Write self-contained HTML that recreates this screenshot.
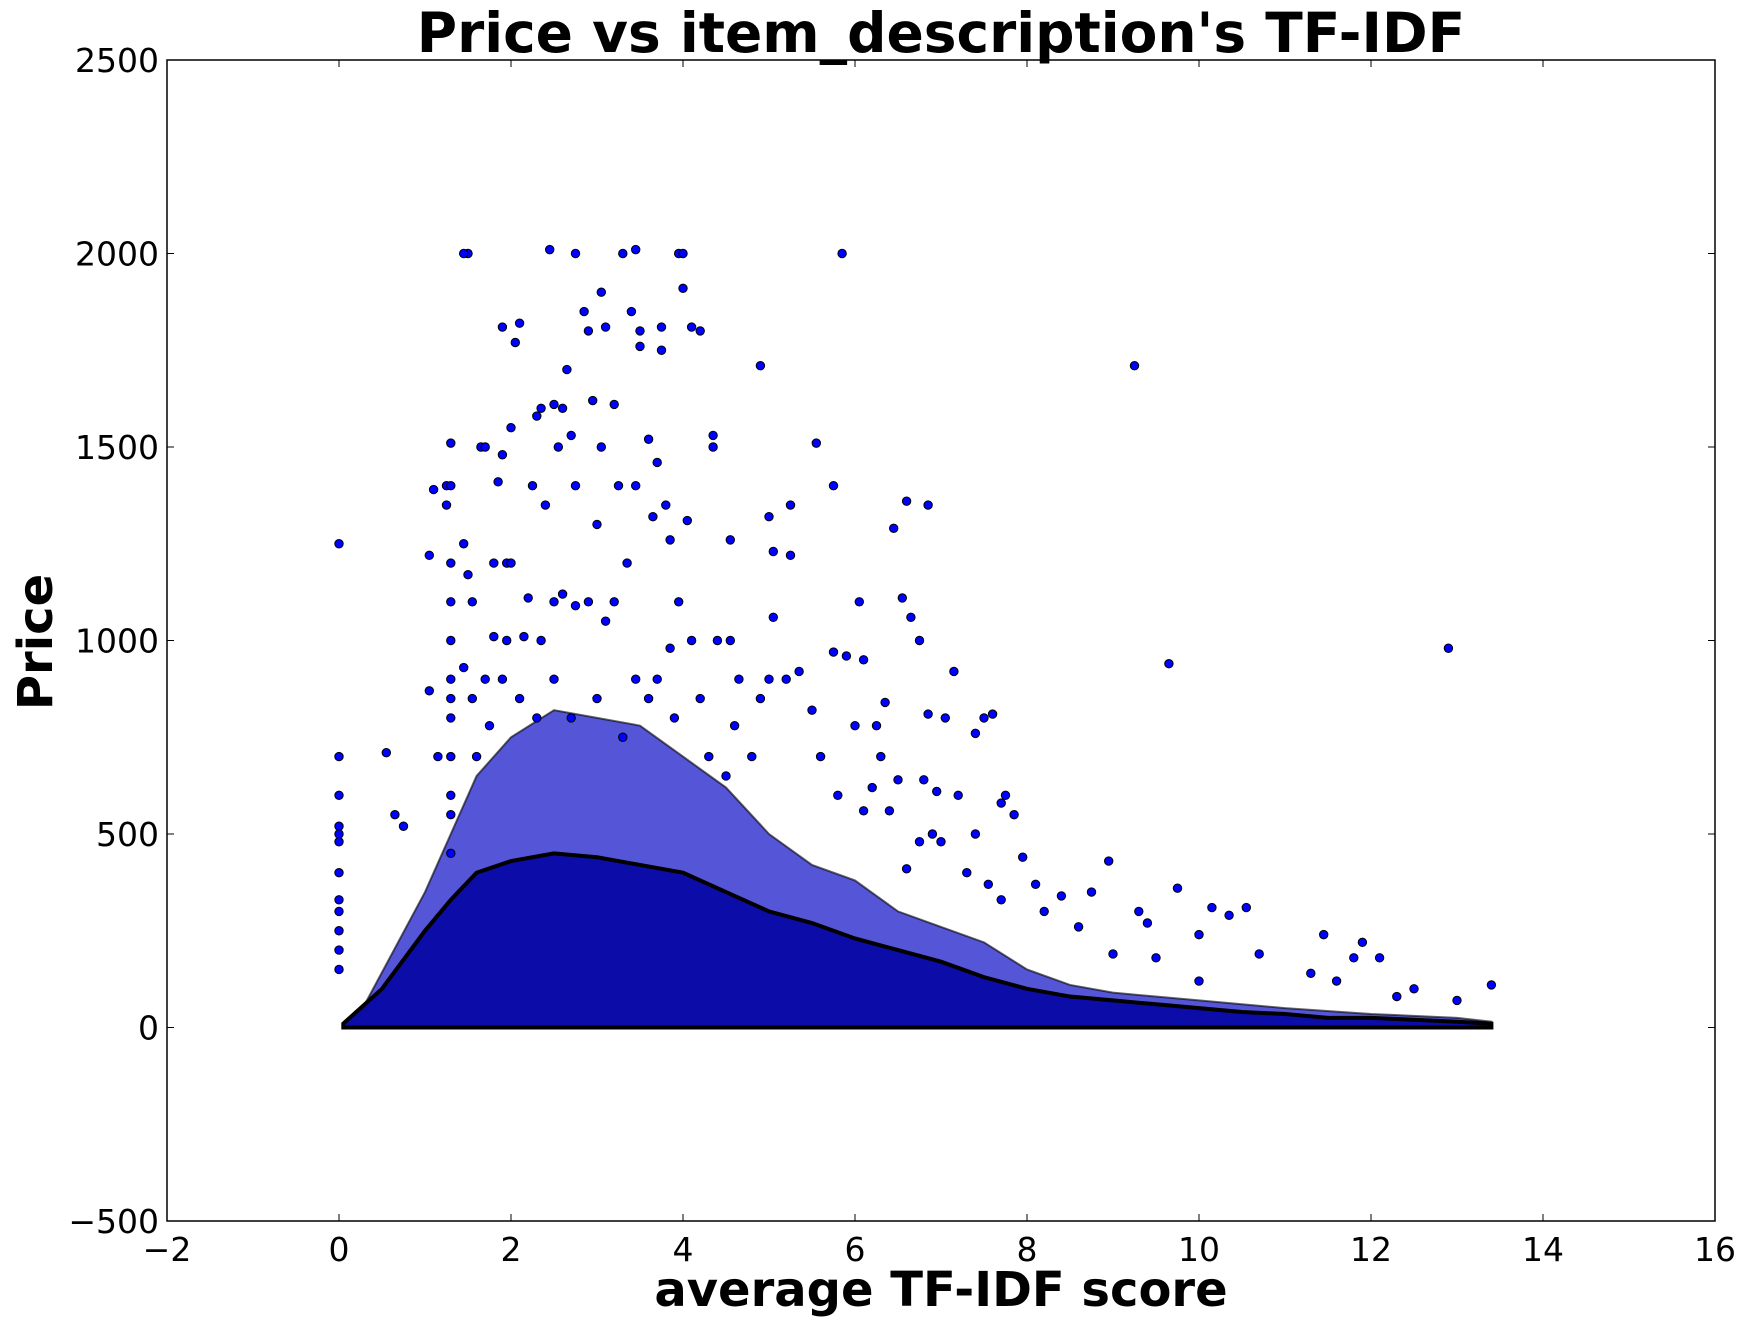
<!DOCTYPE html>
<html><head><meta charset="utf-8"><style>
html,body{margin:0;padding:0;background:#fff;}
svg{display:block;font-family:"Liberation Sans","DejaVu Sans",sans-serif;}
</style></head><body>
<svg id="chart" width="1748" height="1325" viewBox="0 0 1748 1325" xmlns="http://www.w3.org/2000/svg">
<rect x="0" y="0" width="1748" height="1325" fill="#fff"/>
<text x="941" y="52" text-anchor="middle" font-size="55" font-weight="bold" font-family="DejaVu Sans, sans-serif">Price vs item_description's TF-IDF</text>
<text x="941" y="1306" text-anchor="middle" font-size="48" font-weight="bold" font-family="DejaVu Sans, sans-serif">average TF-IDF score</text>
<text transform="translate(52,642) rotate(-90)" text-anchor="middle" font-size="48" font-weight="bold" font-family="DejaVu Sans, sans-serif">Price</text>
<g id="marks"></g>
<g id="axes"></g>
</svg>
<script>
const xTicks=[-2,0,2,4,6,8,10,12,14,16];
const yTicks=[-500,0,500,1000,1500,2000,2500];
const denseX=[0.05,0.1,0.5,1.0,1.3,1.6,2.0,2.5,3.0,3.5,4.0,4.5,5.0,5.5,6.0,6.5,7.0,7.5,8.0,8.5,9.0,9.5,10.0,10.5,11.0,11.5,12.0,12.5,13.0,13.4];
const denseY=[10,20,100,250,330,400,430,450,440,420,400,350,300,270,230,200,170,130,100,80,70,60,50,40,35,25,25,20,15,10];
const bandX=[0.3,1.0,1.3,1.6,2.0,2.5,3.0,3.5,4.0,4.5,5.0,5.5,6.0,6.5,7.0,7.5,8.0,8.5,9.0,10.0,11.0,12.0,13.0,13.4];
const bandY=[60,350,500,650,750,820,800,780,700,620,500,420,380,300,260,220,150,110,90,70,50,35,25,15];
const ptX=[0,0,0,0,0,0,0,0.55,0.65,0.75,1.05,1.1,1.05,1.15,1.25,1.3,1.3,1.25,1.3,1.3,1.3,1.3,1.3,1.45,1.5,1.45,1.5,1.55,1.65,1.7,1.8,1.85,1.9,1.9,1.95,2.0,2.05,2.1,2.15,2.25,2.3,2.35,2.4,2.45,2.5,2.55,2.6,2.65,2.7,2.75,2.75,2.85,2.9,2.95,3.0,3.05,3.1,3.05,3.2,3.25,3.3,3.35,3.4,3.45,3.45,3.5,3.5,3.6,3.65,3.7,3.75,3.75,3.8,3.85,3.95,4.0,4.0,4.05,4.1,4.2,4.35,4.35,4.55,4.9,5.0,5.05,5.05,5.25,5.25,5.55,5.75,5.85,6.05,6.1,6.25,6.45,6.55,6.6,6.65,6.75,6.85,6.85,7.05,7.15,7.4,7.5,7.6,7.7,7.75,7.85,9.25,9.65,12.9,8.95,9.75,10.55,11.45,11.9,12.1,11.8,10.15,10,10.35,9.3,9.4,8.75,8.1,8.4,7.95,7.55,7.4,7.2,6.95,6.8,6.75,6.9,6.5,6.3,6.35,6.2,6.0,5.9,5.75,5.5,5.35,5.2,5.0,4.9,4.8,4.6,4.4,4.55,4.65,4.3,4.1,3.95,3.85,3.7,3.45,3.2,3.1,2.9,2.75,2.6,2.5,2.35,2.2,2.0,1.95,1.8,1.7,1.55,1.45,1.6,1.75,1.9,2.1,2.3,2.5,2.7,3.0,3.3,3.6,3.9,4.2,4.5,5.6,5.8,6.1,6.4,6.6,7.0,7.3,7.7,8.2,8.6,9.0,9.5,10.0,10.7,11.3,11.6,12.5,13.4,13.0,12.3,0,0,0,0,0,1.3,1.3,1.3,1.3,1.3];
const ptY=[1250,700,600,520,500,480,400,710,550,520,870,1390,1220,700,1400,1400,1510,1350,1200,1100,1000,900,850,1250,2000,2000,1170,1100,1500,1500,1200,1410,1810,1480,1200,1550,1770,1820,1010,1400,1580,1600,1350,2010,1610,1500,1600,1700,1530,1400,2000,1850,1800,1620,1300,1900,1810,1500,1610,1400,2000,1200,1850,2010,1400,1760,1800,1520,1320,1460,1750,1810,1350,1260,2000,2000,1910,1310,1810,1800,1530,1500,1260,1710,1320,1230,1060,1350,1220,1510,1400,2000,1100,950,780,1290,1110,1360,1060,1000,1350,810,800,920,760,800,810,580,600,550,1710,940,980,430,360,310,240,220,180,180,310,240,290,300,270,350,370,340,440,370,500,600,610,640,480,500,640,700,840,620,780,960,970,820,920,900,900,850,700,780,1000,1000,900,700,1000,1100,980,900,900,1100,1050,1100,1090,1120,1100,1000,1110,1200,1000,1010,900,850,930,700,780,900,850,800,900,800,850,750,850,800,850,650,700,600,560,560,410,480,400,330,300,260,190,180,120,190,140,120,100,110,70,80,330,300,250,200,150,800,700,600,550,450];
const NS="http://www.w3.org/2000/svg";
const L=167,R=1715,T=60,B=1221;
function sx(v){return L+(v-(-2))/18*(R-L);}
function sy(v){return B-(v-(-500))/3000*(B-T);}
const marks=document.getElementById('marks');
const axes=document.getElementById('axes');
function mk(tag,attrs,parent){const e=document.createElementNS(NS,tag);for(const k in attrs)e.setAttribute(k,attrs[k]);parent.appendChild(e);return e;}
function area(xs,ys){let d='M'+sx(xs[0])+','+sy(0);for(let i=0;i<xs.length;i++)d+=' L'+sx(xs[i])+','+sy(ys[i]);d+=' L'+sx(xs[xs.length-1])+','+sy(0)+' Z';return d;}
const band=mk('path',{d:area(bandX,bandY),fill:'#1414c8','fill-opacity':'0.72',stroke:'#000','stroke-width':'2','stroke-opacity':'0.6'},marks);


const dense=mk('path',{d:area(denseX,denseY),fill:'#0c0ca8',stroke:'#000','stroke-width':'4'},marks);


for(let i=0;i<ptX.length;i++){
  const c=mk('circle',{cx:sx(ptX[i]),cy:sy(ptY[i]),r:4.2,fill:'#0000ff',stroke:'#000','stroke-width':'1'},marks);
  
  
}
const frame=mk('rect',{x:L,y:T,width:R-L,height:B-T,fill:'none',stroke:'#000','stroke-width':'1.5'},axes);


for(const t of xTicks){
  const x=sx(t);
  mk('line',{x1:x,x2:x,y1:B,y2:B-7,stroke:'#000','stroke-width':'1'},axes);
  mk('line',{x1:x,x2:x,y1:T,y2:T+7,stroke:'#000','stroke-width':'1'},axes);
  const tx=mk('text',{x:x,y:B+40,'text-anchor':'middle','font-size':'33','font-family':'DejaVu Sans, sans-serif'},axes);
  tx.textContent=(t<0?'\u2212'+(-t):String(t));
  
  
}
for(const t of yTicks){
  const y=sy(t);
  mk('line',{x1:L,x2:L+7,y1:y,y2:y,stroke:'#000','stroke-width':'1'},axes);
  mk('line',{x1:R,x2:R-7,y1:y,y2:y,stroke:'#000','stroke-width':'1'},axes);
  const ty=mk('text',{x:L-8,y:y+12,'text-anchor':'end','font-size':'33','font-family':'DejaVu Sans, sans-serif'},axes);
  ty.textContent=(t<0?'\u2212'+(-t):String(t));
  
  
}
</script>
</body></html>
